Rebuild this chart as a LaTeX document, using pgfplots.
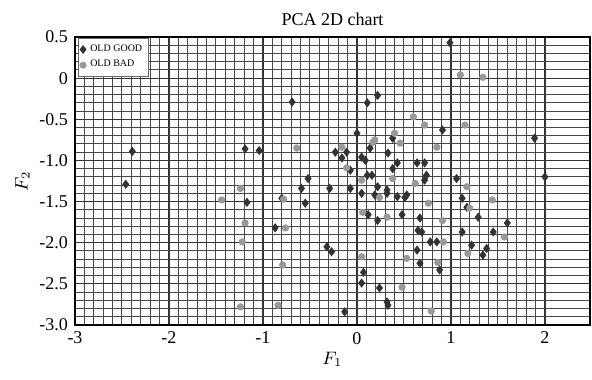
\documentclass[border=0pt]{standalone}
\usepackage{pgfplots}
\pgfplotsset{compat=1.18}
\usepackage{fontspec}
\setmainfont{Liberation Serif}
\begin{document}
\begin{tikzpicture}
\begin{axis}[
  at={(0,0)}, anchor=south west,
  width=257.5pt, height=144pt, scale only axis,
  xmin=-3, xmax=2.48, ymin=-3.0, ymax=0.5,
  xtick={-3,-2,-1,0,1,2},
  xticklabels={-3,-2,-1,0,1,2},
  ytick={-3,-2.5,-2,-1.5,-1,-0.5,0,0.5},
  yticklabels={-3.0,-2.5,-2.0,-1.5,-1.0,-0.5,0,0.5},
  minor x tick num=9, minor y tick num=4,
  grid=both,
  major grid style={black!80, line width=0.6pt},
  minor grid style={black!72, line width=0.5pt},
  axis line style={black, line width=0.7pt},
  tick style={black},
  major tick length=0pt, minor tick length=0pt,
  ticklabel style={font=\fontsize{9}{10}\selectfont},
  title={PCA 2D chart}, title style={font=\fontsize{9}{10}\selectfont, yshift=-4pt},
  xlabel={$F_1$}, ylabel={$F_2$},
  xlabel style={font=\small, yshift=3pt},
  ylabel style={font=\small, yshift=-2pt},
  legend style={font=\fontsize{5}{6}\selectfont, draw=black!60, line width=0.3pt, inner sep=1pt, row sep=-1pt, at={(0.005,0.995)}, anchor=north west, fill=white},
  legend cell align=left,
]
\addplot[only marks, mark=diamond*, mark size=2pt, color=black!80, fill=black!80] coordinates {
(-2.39,-0.89) (-2.46,-1.29) (-1.19,-0.86) (-1.04,-0.88) (-0.69,-0.29)
(-1.17,-1.51) (-0.80,-1.46) (-0.59,-1.34) (-0.87,-1.82) (-0.52,-1.22)
(-0.55,-1.52) (-0.32,-2.05) (-0.27,-2.11) (0.07,-2.36) (0.05,-2.49)
(-0.13,-2.84) (0.24,-2.55) (0.32,-2.72) (0.33,-2.76) (0.64,-2.09)
(0.67,-2.25) (0.88,-2.33) (0.78,-1.99) (0.85,-1.99) (0.99,0.43)
(0.22,-0.21) (0.11,-0.30) (0.91,-0.63) (0.0,-0.67) (1.89,-0.73)
(0.38,-0.73) (-0.23,-0.90) (-0.11,-0.90) (-0.16,-0.97) (0.05,-0.96)
(0.09,-1.0) (0.14,-0.85) (0.33,-0.91) (0.43,-1.03) (0.64,-1.03)
(0.72,-1.03) (-0.07,-1.12) (0.11,-1.18) (0.16,-1.18) (0.38,-1.10)
(0.74,-1.18) (0.72,-1.24) (-0.29,-1.34) (-0.07,-1.34) (0.22,-1.32)
(0.32,-1.36) (0.53,-1.42) (0.12,-1.66) (0.22,-1.73) (0.19,-1.42)
(0.32,-1.40) (0.51,-1.45) (0.48,-1.66) (0.67,-1.70) (0.65,-1.85)
(0.69,-1.87) (1.06,-1.22) (2.0,-1.20) (1.12,-1.46) (1.17,-1.57)
(1.29,-1.69) (1.60,-1.76) (1.12,-1.87) (1.45,-1.87) (1.22,-2.03)
(1.38,-2.07) (1.34,-2.15) (0.43,-1.44) (0.05,-1.40)
};
\addlegendentry{OLD GOOD}
\addplot[only marks, mark=*, mark size=1.6pt, color=black!40, fill=black!40] coordinates {
(-0.64,-0.85) (-1.24,-1.34) (-1.44,-1.48) (-0.78,-1.47) (-1.19,-1.76)
(-0.76,-1.82) (-1.22,-1.99) (-0.79,-2.27) (-1.24,-2.78) (-0.84,-2.76)
(0.05,-2.17) (0.53,-2.19) (0.48,-2.54) (0.79,-2.83) (0.86,-2.24)
(1.10,0.04) (1.34,0.01) (0.60,-0.47) (0.72,-0.57) (1.15,-0.57)
(0.40,-0.67) (0.17,-0.78) (0.46,-0.79) (0.85,-0.84) (-0.16,-0.84)
(-0.11,-1.09) (0.19,-0.75) (0.05,-1.24) (0.38,-1.22) (0.62,-1.28)
(0.06,-1.63) (0.32,-1.69) (0.24,-1.45) (0.76,-1.52) (1.17,-1.32)
(1.20,-1.58) (1.44,-1.48) (0.91,-1.73) (1.57,-1.93) (0.92,-1.99)
(1.18,-2.13)
};
\addlegendentry{OLD BAD}
\end{axis}
\pgfresetboundingbox
\path (-37.5pt,-27pt) rectangle (258.5pt,162.5pt);
\end{tikzpicture}
\end{document}
